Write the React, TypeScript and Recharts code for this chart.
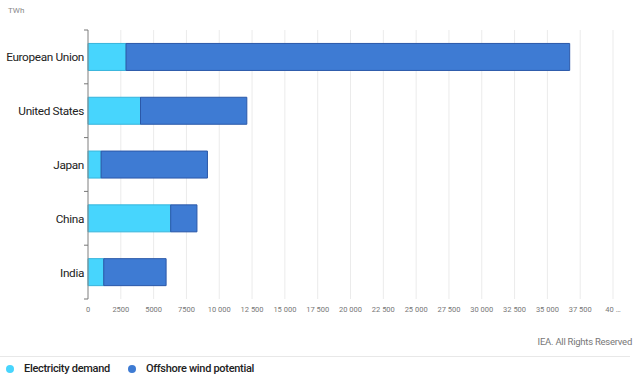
import React from 'react';
import { BarChart, Bar, XAxis, YAxis, CartesianGrid } from 'recharts';

const categories = ['European Union', 'United States', 'Japan', 'China', 'India'];
const electricityDemand = [2900, 4000, 1000, 6300, 1200];
const offshoreWind = [33800, 8100, 8100, 2000, 4750];
const xTicks = [0, 2500, 5000, 7500, 10000, 12500, 15000, 17500, 20000, 22500, 25000, 27500, 30000, 32500, 35000, 37500, 40000];

const data = categories.map((c, i) => ({ name: c, demand: electricityDemand[i], wind: offshoreWind[i] }));

const FONT = 'Roboto, "Noto Sans", sans-serif';
const CHART_H = 330;
const MARGIN = { top: 30, right: 27, bottom: 11, left: 0 };
const X_AXIS_H = 20;
const PLOT_H = CHART_H - MARGIN.top - MARGIN.bottom - X_AXIS_H;
const BAND = PLOT_H / categories.length;

const fmtX = (v: number) => {
  if (v === 40000) return '40 …';
  if (v >= 10000) {
    const s = String(v);
    return s.slice(0, s.length - 3) + ' ' + s.slice(s.length - 3);
  }
  return String(v);
};

const YTick = (props: any) => {
  const { x, y, payload, index } = props;
  return (
    <g>
      <line x1={x + 4} x2={x + 8} y1={y - BAND / 2} y2={y - BAND / 2} stroke="#777" strokeWidth={1} />
      {index === categories.length - 1 && (
        <line x1={x + 4} x2={x + 8} y1={y + BAND / 2} y2={y + BAND / 2} stroke="#777" strokeWidth={1} />
      )}
      <text x={x + 4} y={y} dy={4.5} textAnchor="end" fontSize={11.8} letterSpacing={-0.35} fill="#222" fontFamily={FONT}>
        {payload.value}
      </text>
    </g>
  );
};

export default function App() {
  return (
    <div style={{ position: 'absolute', left: 0, top: 0, width: 640, height: 381, background: '#fff', fontFamily: FONT }}>
      <div style={{ position: 'absolute', left: 8, top: 6, fontSize: 8, color: '#888' }}>TWh</div>
      <BarChart
        width={640}
        height={CHART_H}
        data={data}
        layout="vertical"
        margin={MARGIN}
        barCategoryGap="25%"
      >
        <CartesianGrid horizontal={false} stroke="#ebebeb" />
        <XAxis
          type="number"
          domain={[0, 40000]}
          ticks={xTicks}
          tickFormatter={fmtX}
          axisLine={false}
          tickLine={false}
          height={X_AXIS_H}
          interval={0}
          tick={{ fontSize: 7.5, fill: '#777', fontFamily: FONT }}
        />
        <YAxis
          type="category"
          dataKey="name"
          width={88}
          axisLine={{ stroke: '#888' }}
          tickLine={false}
          tick={<YTick />}
        />
        <Bar dataKey="demand" stackId="a" fill="#47d5fd" stroke="#36b4db" strokeWidth={1} isAnimationActive={false} />
        <Bar dataKey="wind" stackId="a" fill="#3e7bd3" stroke="#2a58a8" strokeWidth={1} isAnimationActive={false} />
      </BarChart>
      <div style={{ position: 'absolute', right: 8, top: 336, fontSize: 9.5, letterSpacing: -0.25, color: '#777' }}>IEA. All Rights Reserved</div>
      <div style={{ position: 'absolute', left: 0, top: 356, width: 630, height: 1, background: '#e8e8e8' }} />
      <div style={{ position: 'absolute', left: 6, top: 362, display: 'flex', alignItems: 'center', fontSize: 11, fontWeight: 500, letterSpacing: -0.3, color: '#222' }}>
        <span style={{ display: 'inline-block', width: 8, height: 8, borderRadius: 4, background: '#47d5fd', marginRight: 10 }} />
        <span style={{ marginRight: 18 }}>Electricity demand</span>
        <span style={{ display: 'inline-block', width: 8, height: 8, borderRadius: 4, background: '#3e7bd3', marginRight: 10 }} />
        <span>Offshore wind potential</span>
      </div>
    </div>
  );
}
